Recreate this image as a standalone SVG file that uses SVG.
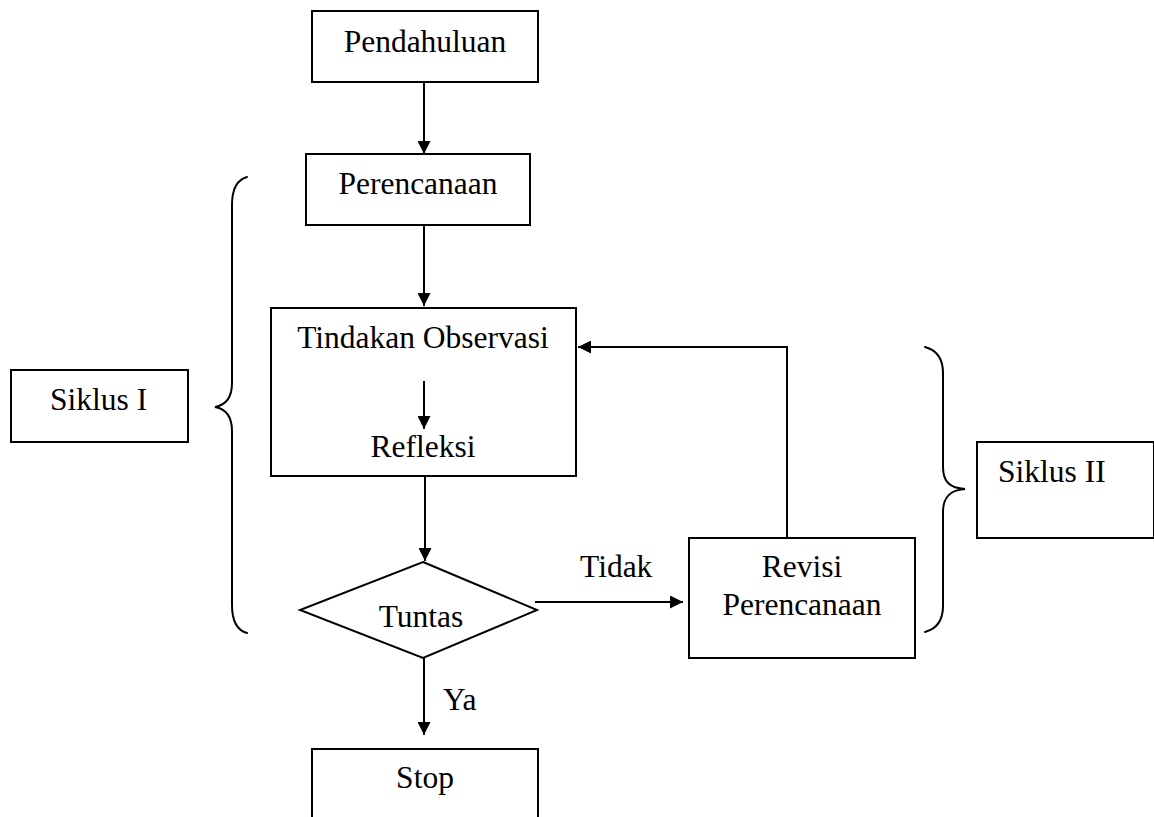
<svg xmlns="http://www.w3.org/2000/svg" width="1154" height="817" viewBox="0 0 1154 817">
<style>
.box{fill:#fff;stroke:#000;stroke-width:2}
.t{font-family:"Liberation Serif","Times New Roman",serif;font-size:31.5px;fill:#000}
.c{text-anchor:middle}
.ln{fill:none;stroke:#000;stroke-width:2}
.br{fill:none;stroke:#000;stroke-width:2;stroke-linecap:round}
</style>
<defs>
<marker id="ah" viewBox="0 0 10 10" refX="10" refY="5" markerWidth="13" markerHeight="13" markerUnits="userSpaceOnUse" orient="auto">
<path d="M0,0 L10,5 L0,10 Z" fill="#000"/>
</marker>
</defs>
<rect width="1154" height="817" fill="#fff"/>
<g id="pendahuluan"><rect class="box" x="312" y="11" width="226" height="71"/><text class="t c" x="425" y="52">Pendahuluan</text></g>
<g id="perencanaan"><rect class="box" x="306" y="154" width="224" height="71"/><text class="t c" x="418" y="194">Perencanaan</text></g>
<g id="tindakan"><rect class="box" x="271" y="308" width="305" height="168"/><text class="t c" x="423" y="348">Tindakan Observasi</text><text class="t c" x="423" y="457">Refleksi</text></g>
<g id="tuntas"><polygon class="box" points="423,562 537,610 423,658 300,610"/><text class="t c" x="421" y="627">Tuntas</text></g>
<g id="revisi"><rect class="box" x="689" y="538" width="226" height="120"/><text class="t c" x="802" y="577">Revisi</text><text class="t c" x="802" y="615">Perencanaan</text></g>
<g id="stop"><rect class="box" x="312" y="749" width="226" height="100"/><text class="t c" x="425" y="788">Stop</text></g>
<g id="siklus1"><rect class="box" x="11" y="370" width="177" height="72"/><text class="t" x="50" y="410">Siklus I</text>
<path class="br" d="M247,177 C236,180 232,190 232,205 L232,383 C232,398 226,405 215,407 C226,409 232,416 232,431 L232,605 C232,620 236,630 247,633"/></g>
<g id="siklus2"><rect class="box" x="977" y="442" width="177" height="96"/><text class="t" x="998" y="482">Siklus II</text>
<path class="br" d="M925,347 C936,350 943,358 943,373 L943,467 C943,482 950,488 965,489 C950,490 943,497 943,512 L943,606 C943,621 936,629 925,632"/></g>
<g id="connectors">
<line class="ln" x1="424" y1="82" x2="424" y2="154" marker-end="url(#ah)"/>
<line class="ln" x1="424" y1="225" x2="424" y2="306" marker-end="url(#ah)"/>
<line class="ln" x1="424" y1="381" x2="424" y2="429" marker-end="url(#ah)"/>
<line class="ln" x1="425" y1="476" x2="425" y2="561" marker-end="url(#ah)"/>
<line class="ln" x1="535" y1="602" x2="683" y2="602" marker-end="url(#ah)"/>
<text class="t" x="580" y="577">Tidak</text>
<line class="ln" x1="424" y1="658" x2="424" y2="735" marker-end="url(#ah)"/>
<text class="t" x="443" y="710">Ya</text>
<polyline class="ln" points="787,538 787,347 578,347" marker-end="url(#ah)"/>
</g>
</svg>
